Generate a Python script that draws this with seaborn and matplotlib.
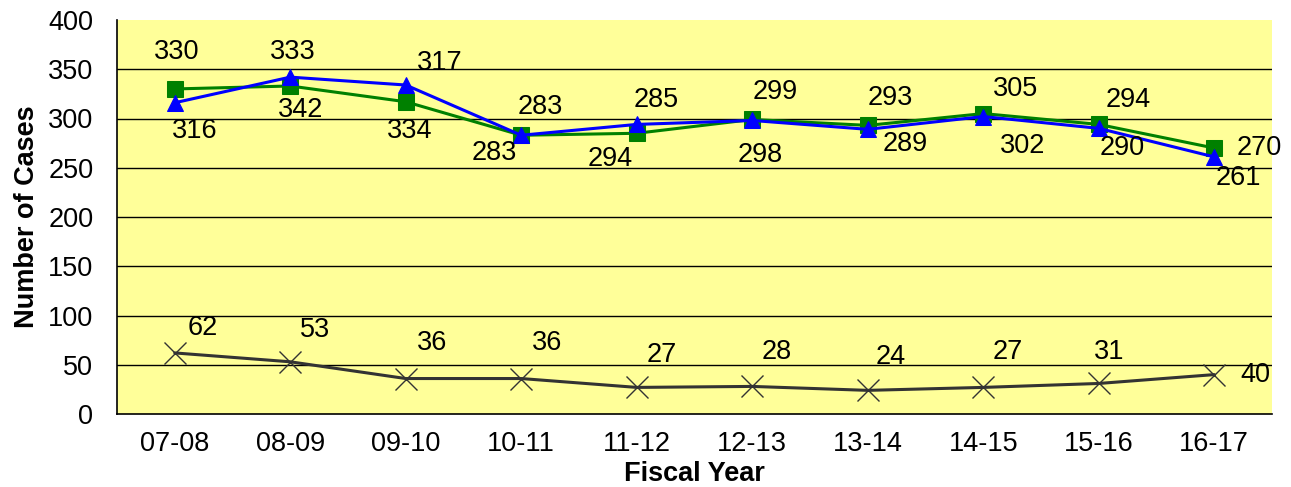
import matplotlib
matplotlib.use("Agg")
import matplotlib.pyplot as plt
import pandas as pd
import seaborn as sns

years = ["07-08", "08-09", "09-10", "10-11", "11-12",
         "12-13", "13-14", "14-15", "15-16", "16-17"]
green_cases = [330, 333, 317, 283, 285, 299, 293, 305, 294, 270]
blue_cases = [316, 342, 334, 283, 294, 298, 289, 302, 290, 261]
black_cases = [62, 53, 36, 36, 27, 28, 24, 27, 31, 40]

# label offsets in pixels (dx, dy) relative to each point
green_offsets = [(2, 37), (3, 34), (34, 39), (19, 28), (19, 33),
                 (23, 27), (23, 27), (32, 25), (29, 24), (45, 0)]
blue_offsets = [(20, -28), (10, -33), (4, -46), (-27, -18), (-27, -35),
                (8, -35), (37, -15), (39, -29), (23, -20), (24, -21)]
black_offsets = [(28, 25), (25, 32), (26, 36), (26, 36), (25, 32),
                 (24, 34), (23, 33), (25, 35), (10, 31), (41, 0)]

sns.set_style("white")
plt.rcParams["font.family"] = ["Liberation Sans", "DejaVu Sans"]
plt.rcParams["text.color"] = "black"
plt.rcParams["xtick.color"] = "black"
plt.rcParams["ytick.color"] = "black"
plt.rcParams["axes.labelcolor"] = "black"

df = pd.DataFrame({
    "pos": range(len(years)),
    "green": green_cases,
    "blue": blue_cases,
    "black": black_cases,
})

fig = plt.figure(figsize=(12.91, 4.87), dpi=100)
ax = fig.add_axes([117 / 1291, 73 / 487, 1155 / 1291, 394 / 487])
ax.set_facecolor("#FFFF99")

sns.lineplot(data=df, x="pos", y="green", ax=ax, color="#008000",
             linewidth=2.2, marker="s", markersize=11.5,
             markeredgecolor="#008000", zorder=3)
sns.lineplot(data=df, x="pos", y="blue", ax=ax, color="#0000FF",
             linewidth=2.2, marker="^", markersize=11.5,
             markeredgecolor="#0000FF", zorder=4)
sns.lineplot(data=df, x="pos", y="black", ax=ax, color="#333333",
             linewidth=2.2, marker="x", markersize=16,
             markeredgewidth=1.0, markeredgecolor="#333333", zorder=3)

for col, offs in [("green", green_offsets), ("blue", blue_offsets),
                  ("black", black_offsets)]:
    for i, v in enumerate(df[col]):
        ax.annotate(str(v), (i, v), xytext=offs[i],
                    textcoords="offset pixels", ha="center", va="center",
                    fontsize=19.5, color="black", zorder=5)

ax.set_xlim(-0.5, len(years) - 0.5)
ax.set_ylim(0, 400)
ax.set_yticks(range(0, 401, 50))
ax.set_xticks(range(len(years)))
ax.set_xticklabels(years)
ax.set_xticks([i - 0.5 for i in range(len(years) + 1)], minor=True)
ax.tick_params(axis="x", which="major", length=0, labelsize=19.5, pad=12)
ax.tick_params(axis="x", which="minor", length=6, width=1, color="black",
               direction="out")
ax.tick_params(axis="y", length=6, width=1, color="black", direction="out",
               labelsize=19.5, pad=11)

for y in range(50, 400, 50):
    ax.axhline(y, color="black", linewidth=1, zorder=1)

for side in ["top", "right"]:
    ax.spines[side].set_visible(False)
for side in ["left", "bottom"]:
    ax.spines[side].set_color("black")
    ax.spines[side].set_linewidth(1.2)

ax.set_xlabel("Fiscal Year", fontsize=19.5, fontweight="bold", labelpad=3)
ax.set_ylabel("Number of Cases", fontsize=19.5, fontweight="bold", labelpad=6)

fig.savefig("out.png", dpi=100)
